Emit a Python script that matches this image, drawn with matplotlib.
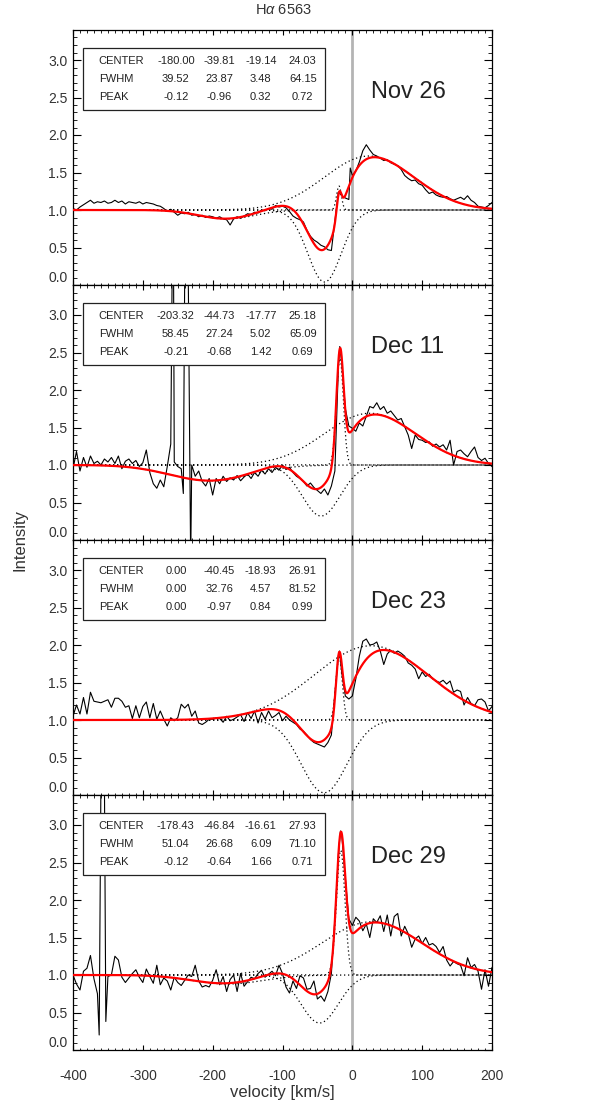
import numpy as np
import matplotlib
matplotlib.use('Agg')
import matplotlib.pyplot as plt
from matplotlib.patches import Rectangle
from matplotlib.ticker import MultipleLocator

plt.rcParams['font.family'] = ['Liberation Sans', 'DejaVu Sans']
plt.rcParams['axes.unicode_minus'] = False
plt.rcParams['mathtext.fontset'] = 'custom'
plt.rcParams['mathtext.rm'] = 'Liberation Sans'
plt.rcParams['mathtext.it'] = 'Liberation Sans:italic'

# ---------------- data ----------------
dates = ['Nov 26', 'Dec 11', 'Dec 23', 'Dec 29']
velocity = np.arange(-400, 201, 5)  # km/s grid of the observed spectra

spec_nov26 = [
    1.02, 1.00, 1.04, 1.07, 1.10, 1.13, 1.09, 1.11, 1.10, 1.12,
    1.09, 1.10, 1.13, 1.10, 1.12, 1.08, 1.11, 1.10, 1.09, 1.11,
    1.08, 1.10, 1.09, 1.08, 1.06, 1.05, 1.02, 0.98, 1.01, 0.97,
    0.93, 0.96, 0.95, 0.97, 0.93, 0.94, 0.91, 0.93, 0.90, 0.92,
    0.91, 0.89, 0.91, 0.88, 0.87, 0.80, 0.88, 0.91, 0.89, 0.92,
    0.95, 0.94, 0.97, 0.96, 1.00, 0.99, 1.02, 1.01, 1.06, 1.04,
    1.05, 1.03, 0.98, 0.92, 0.89, 0.87, 0.84, 0.73, 0.65, 0.60,
    0.57, 0.53, 0.51, 0.47, 0.46, 0.85, 1.24, 1.19, 1.16, 1.14,
    1.46, 1.52, 1.64, 1.79, 1.87, 1.80, 1.74, 1.72, 1.69, 1.66,
    1.67, 1.63, 1.61, 1.59, 1.54, 1.46, 1.42, 1.39, 1.40, 1.35,
    1.33, 1.27, 1.22, 1.24, 1.20, 1.18, 1.17, 1.18, 1.15, 1.13,
    1.15, 1.17, 1.14, 1.19, 1.13, 1.10, 1.05, 1.04, 1.03, 1.06,
    1.10]
spec_dec11 = [
    0.95, 1.18, 0.92, 1.10, 0.97, 1.12, 1.02, 1.05, 1.00, 1.08,
    1.04, 1.10, 1.02, 1.12, 0.95, 1.05, 1.08, 1.02, 1.06, 0.98,
    1.03, 1.20, 0.90, 0.75, 0.69, 0.80, 0.71, 0.98, 1.28, 1.04,
    0.98, 0.95, 3.60, 3.60, 1.00, 0.85, 0.92, 0.78, 0.72, 0.82,
    0.60, 0.82, 0.75, 0.85, 0.78, 0.83, 0.80, 0.86, 0.79, 0.84,
    0.88, 0.82, 0.90, 0.85, 0.93, 0.88, 0.95, 0.90, 0.97, 0.93,
    1.00, 0.94, 0.97, 0.90, 0.85, 0.82, 0.78, 0.72, 0.76, 0.70,
    0.66, 0.62, 0.68, 0.60, 0.72, 0.92, 2.30, 2.35, 1.75, 1.52,
    1.49, 1.45, 1.56, 1.52, 1.65, 1.78, 1.76, 1.83, 1.74, 1.78,
    1.69, 1.72, 1.66, 1.60, 1.62, 1.51, 1.40, 1.22, 1.40, 1.34,
    1.33, 1.30, 1.31, 1.25, 1.28, 1.24, 1.27, 1.20, 1.33, 1.00,
    1.18, 1.20, 1.15, 1.11, 1.18, 1.24, 1.10, 1.06, 1.09, 1.02,
    0.98]
spec_dec23 = [
    1.05, 1.20, 1.08, 1.30, 1.08, 1.37, 1.25, 1.24, 1.23, 1.25,
    1.27, 1.17, 1.29, 1.29, 1.25, 1.17, 1.19, 1.02, 1.19, 1.03,
    1.18, 1.24, 1.03, 1.22, 1.01, 1.12, 1.01, 0.92, 1.03, 0.99,
    1.03, 1.21, 1.16, 1.21, 1.05, 1.12, 0.96, 0.94, 0.97, 1.01,
    1.01, 1.03, 1.02, 0.97, 1.05, 0.99, 1.01, 1.04, 1.07, 0.98,
    1.10, 1.02, 1.12, 0.96, 1.10, 1.01, 1.12, 1.03, 1.06, 1.10,
    0.99, 1.05, 1.00, 0.97, 0.94, 0.88, 0.85, 0.80, 0.74, 0.70,
    0.68, 0.66, 0.64, 0.70, 0.80, 1.35, 1.85, 1.62, 1.32, 1.28,
    1.32, 1.55, 1.85, 2.05, 2.08, 2.00, 2.01, 2.04, 1.92, 1.74,
    1.88, 1.93, 1.89, 1.92, 1.89, 1.85, 1.76, 1.73, 1.68, 1.55,
    1.64, 1.58, 1.61, 1.55, 1.52, 1.50, 1.53, 1.48, 1.52, 1.37,
    1.40, 1.38, 1.20, 1.30, 1.22, 1.19, 1.27, 1.28, 1.24, 1.12,
    1.18]
spec_dec29 = [
    1.00, 0.88, 0.80, 1.05, 1.09, 1.26, 0.95, 0.75, 3.60, 3.60,
    0.98, 1.00, 1.25, 1.20, 0.97, 0.90, 0.96, 1.02, 1.07, 0.97,
    0.90, 1.08, 0.98, 0.89, 1.13, 0.87, 0.96, 0.92, 0.80, 0.97,
    0.90, 0.86, 0.93, 1.00, 0.98, 1.13, 0.92, 0.84, 0.86, 0.84,
    0.93, 1.07, 0.87, 0.98, 0.78, 0.94, 1.00, 0.78, 1.02, 0.85,
    0.91, 0.97, 0.95, 1.02, 1.06, 0.97, 1.01, 1.05, 0.99, 1.13,
    1.02, 0.84, 0.76, 0.92, 0.82, 0.99, 0.96, 0.81, 0.82, 0.92,
    0.68, 0.72, 0.65, 0.78, 1.02, 1.75, 2.60, 2.85, 2.29, 1.75,
    1.66, 1.77, 1.72, 1.59, 1.68, 1.50, 1.75, 1.70, 1.79, 1.58,
    1.80, 1.52, 1.78, 1.82, 1.52, 1.65, 1.55, 1.37, 1.48, 1.52,
    1.42, 1.50, 1.40, 1.42, 1.38, 1.30, 1.38, 1.20, 1.12, 1.18,
    1.15, 1.13, 0.99, 1.23, 1.10, 1.14, 1.05, 0.81, 1.07, 0.85,
    1.10]

# additional samples between grid points (spikes / line peaks)
extra_v_nov26 = [-3.0]
extra_i_nov26 = [1.56]
extra_v_dec11 = [-258.0, -256.0, -242.0, -231.5, -18.0]
extra_i_dec11 = [3.60, 3.60, 0.62, -0.30, 2.58]
extra_v_dec23 = [-18.5]
extra_i_dec23 = [1.92]
extra_v_dec29 = [-362.5, -353.0, -17.0]
extra_i_dec29 = [0.20, 0.38, 2.92]

# gaussian fit parameters (table values)
center_nov26 = [-180.00, -39.81, -19.14, 24.03]
fwhm_nov26 = [39.52, 23.87, 3.48, 64.15]
peak_nov26 = [-0.12, -0.96, 0.32, 0.72]
center_dec11 = [-203.32, -44.73, -17.77, 25.18]
fwhm_dec11 = [58.45, 27.24, 5.02, 65.09]
peak_dec11 = [-0.21, -0.68, 1.42, 0.69]
center_dec23 = [0.00, -40.45, -18.93, 26.91]
fwhm_dec23 = [0.00, 32.76, 4.57, 81.52]
peak_dec23 = [0.00, -0.97, 0.84, 0.99]
center_dec29 = [-178.43, -46.84, -16.61, 27.93]
fwhm_dec29 = [51.04, 26.68, 6.09, 71.10]
peak_dec29 = [-0.12, -0.64, 1.66, 0.71]

spectra = [spec_nov26, spec_dec11, spec_dec23, spec_dec29]
extras_v = [extra_v_nov26, extra_v_dec11, extra_v_dec23, extra_v_dec29]
extras_i = [extra_i_nov26, extra_i_dec11, extra_i_dec23, extra_i_dec29]
centers = [center_nov26, center_dec11, center_dec23, center_dec29]
fwhms = [fwhm_nov26, fwhm_dec11, fwhm_dec23, fwhm_dec29]
peaks = [peak_nov26, peak_dec11, peak_dec23, peak_dec29]


def component(v, c, w, p):
    if w <= 0:
        return np.zeros_like(v)
    return p * np.exp(-0.5 * ((v - c) / w) ** 2)


# ---------------- figure ----------------
W, H = 590, 1102
fig = plt.figure(figsize=(W / 100, H / 100), dpi=100)

left_px, right_px = 73, 492
tops = [30, 285, 540, 795]
panel_h = 255
vfine = np.linspace(-400, 200, 2401)
tick_col = '#333333'

axes = []
for k in range(4):
    top = tops[k]
    ax = fig.add_axes([left_px / W, 1 - (top + panel_h) / H,
                       (right_px - left_px) / W, panel_h / H])
    axes.append(ax)
    ax.set_xlim(-400, 200)
    ax.set_ylim(0, 3.4)

    # zero-velocity marker
    ax.axvline(0, color='#b4b4b4', lw=2.0, zorder=1)

    # individual components (dotted)
    comps = [component(vfine, c, w, p)
             for c, w, p in zip(centers[k], fwhms[k], peaks[k])]
    for cp in comps:
        ax.plot(vfine, 1 + cp, color='black', lw=0.9,
                linestyle=(0, (1, 2.2)), zorder=2)

    # observed spectrum
    v_all = np.concatenate([velocity, np.array(extras_v[k], dtype=float)])
    i_all = np.concatenate([np.array(spectra[k], dtype=float),
                            np.array(extras_i[k], dtype=float)])
    order = np.argsort(v_all, kind='stable')
    ax.plot(v_all[order], i_all[order], color='black', lw=0.8, zorder=3)

    # total fit
    ax.plot(vfine, 1 + np.sum(comps, axis=0), color='#ff0000', lw=1.6, zorder=4)

    # parameter table (opaque box)
    ax.add_patch(Rectangle((-385.7, 2.333), 346.6, 0.831, facecolor='white',
                           edgecolor='#222222', lw=0.9, zorder=5))
    col_x = [-252.7, -190.7, -131.1, -71.0]
    rows = [('CENTER', centers[k], 2.99), ('FWHM', fwhms[k], 2.75),
            ('PEAK', peaks[k], 2.51)]
    for name, vals, yy in rows:
        ax.text(-363.3, yy, name, ha='left', va='center', fontsize=8,
                color='#222222', zorder=6)
        for cx, val in zip(col_x, vals):
            ax.text(cx, yy, f'{val:.2f}', ha='center', va='center',
                    fontsize=8, color='#222222', zorder=6)

    ax.text(26.5, 2.57, dates[k], ha='left', va='center', fontsize=17,
            color='#222222', zorder=6)

    # ticks
    ax.xaxis.set_major_locator(MultipleLocator(100))
    ax.xaxis.set_minor_locator(MultipleLocator(10))
    yt = [0.0, 0.5, 1.0, 1.5, 2.0, 2.5, 3.0]
    ax.set_yticks(yt, labels=[f'{t:.1f}' for t in yt])
    ax.yaxis.set_minor_locator(MultipleLocator(0.1))
    ax.tick_params(axis='both', which='both', direction='in', top=True,
                   right=True, labelcolor=tick_col, labelsize=10)
    ax.tick_params(axis='x', which='major', length=3.5, width=0.8, pad=13.5)
    ax.tick_params(axis='x', which='minor', length=1.8, width=0.6)
    ax.tick_params(axis='y', which='major', length=6, width=0.8, pad=4)
    ax.tick_params(axis='y', which='minor', length=3, width=0.6)
    ax.get_yticklabels()[0].set_va('bottom')
    for sp in ax.spines.values():
        sp.set_linewidth(0.9)
    if k < 3:
        ax.tick_params(axis='x', labelbottom=False)

axes[-1].set_xlabel('velocity [km/s]', fontsize=12, color=tick_col, labelpad=1.5)
fig.text(20 / W, 1 - 540 / H, 'Intensity', rotation=90, ha='center',
         va='center', fontsize=12, color=tick_col)
fig.text(283 / W, 1 - 10 / H, r'H$\alpha$ 6563', ha='center', va='center',
         fontsize=10.5, color=tick_col)

fig.savefig('out.png', dpi=100)
